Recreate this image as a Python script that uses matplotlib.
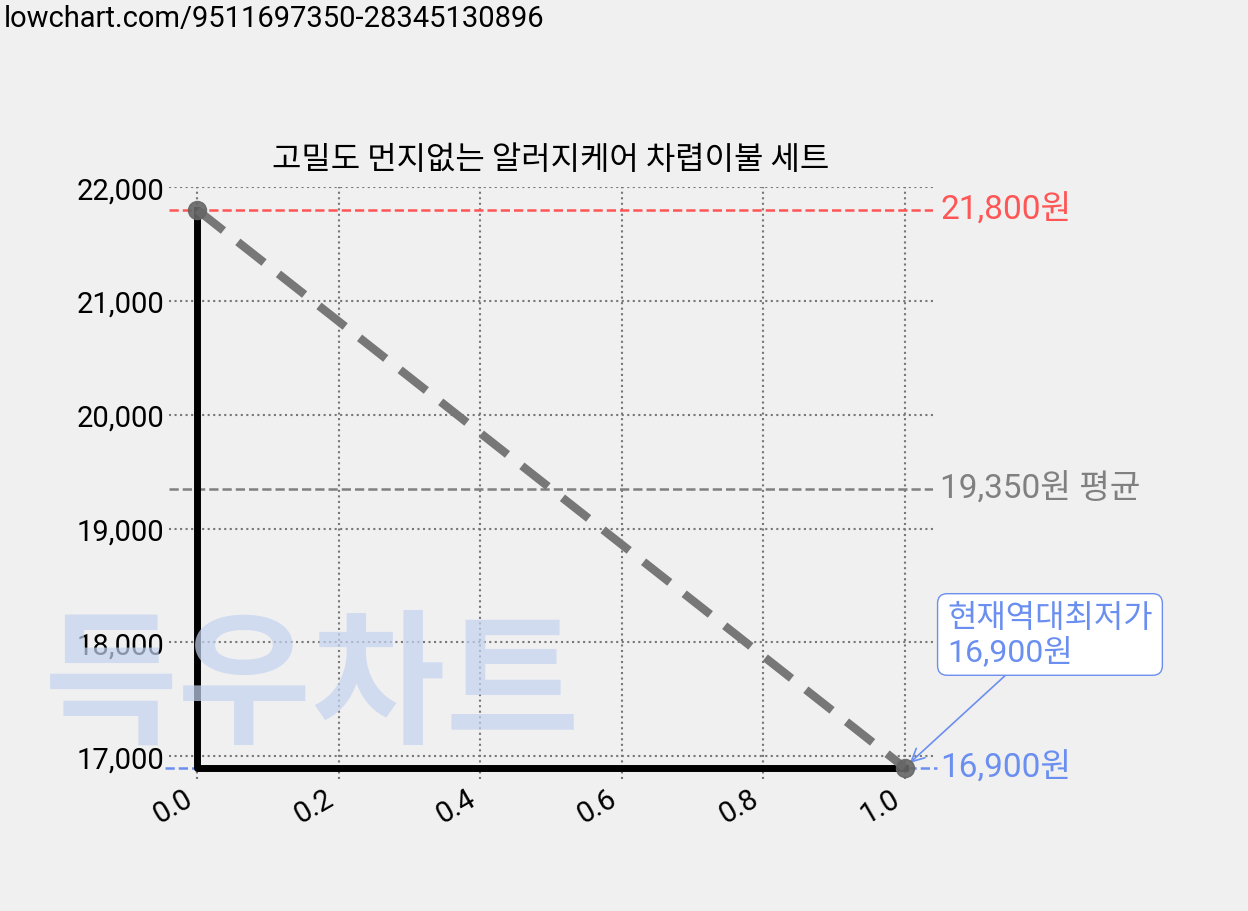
import matplotlib
matplotlib.use("Agg")
import matplotlib.pyplot as plt

plt.rcParams['font.family'] = ['Roboto', 'Noto Sans CJK KR', 'DejaVu Sans']

title = "고밀도 먼지없는 알러지케어 차렵이불 세트"
x_vals = [0.0, 1.0]
prices = [21800, 16900]
max_price = 21800
avg_price = 19350
min_price = 16900
xticks = [0.0, 0.2, 0.4, 0.6, 0.8, 1.0]
yticks = [17000, 18000, 19000, 20000, 21000, 22000]

fig = plt.figure(figsize=(12.48, 9.12), dpi=100, facecolor='#f0f0f0')
ax = fig.add_axes([0.1354, 0.1447, 0.6122, 0.649])
ax.set_facecolor('#f0f0f0')
for s in ax.spines.values():
    s.set_visible(False)

fig.text(0.003, 0.995, "lowchart.com/9511697350-28345130896", fontsize=21, va='top', ha='left')
fig.text(0.25, 0.245, "득우차트", fontsize=105, fontweight='bold', color='#c5d3f0', alpha=0.7,
         ha='center', va='center', zorder=10, family=['Noto Sans CJK KR'])

ax.plot([x_vals[0], x_vals[0], x_vals[1]], [prices[0], prices[1], prices[1]], color='black', lw=5, zorder=3)
ax.plot(x_vals, prices, color='#777777', lw=6, ls=(0, (4, 2.2)), zorder=4)
ax.plot(x_vals, prices, 'o', color='#666666', ms=13, alpha=0.9, zorder=5)

ax.axhline(max_price, color='#ff5555', ls='--', lw=1.8, zorder=2)
ax.axhline(avg_price, color='#808080', ls='--', lw=1.8, zorder=2)
ax.plot([-0.045, 1.045], [min_price, min_price], color='#6b8ff0', ls='--', lw=1.8, clip_on=False, zorder=2)

ax.text(1.05, max_price, "21,800원", color='#ff5555', fontsize=24, va='center')
ax.text(1.05, avg_price, "19,350원 평균", color='#808080', fontsize=24, va='center')
ax.text(1.05, min_price, "16,900원", color='#6b8ff0', fontsize=24, va='center')

ax.annotate("현재역대최저가\n16,900원", xy=(1.0, min_price), xytext=(1.06, 18070),
            color='#6b8ff0', fontsize=23, va='center', ha='left', linespacing=1.1,
            bbox=dict(boxstyle='round,pad=0.3', fc='white', ec='#6b8ff0'),
            arrowprops=dict(arrowstyle='->', color='#6b8ff0', lw=1.2, shrinkA=0, shrinkB=5))

ax.set_xlim(-0.04, 1.04)
ax.set_ylim(16800, 22000)
ax.set_xticks(xticks)
ax.set_xticklabels([f"{t:.1f}" for t in xticks], rotation=30, ha='right', fontsize=21)
ax.set_yticks(yticks)
ax.set_yticklabels([f"{t:,}" for t in yticks], fontsize=21)
ax.tick_params(length=0)
ax.grid(True, ls=':', color='#777777', lw=1.5)
ax.set_axisbelow(True)
ax.set_title(title, fontsize=23, pad=14, family=['Noto Sans CJK KR'])

fig.savefig("out.png", dpi=100, facecolor=fig.get_facecolor())
